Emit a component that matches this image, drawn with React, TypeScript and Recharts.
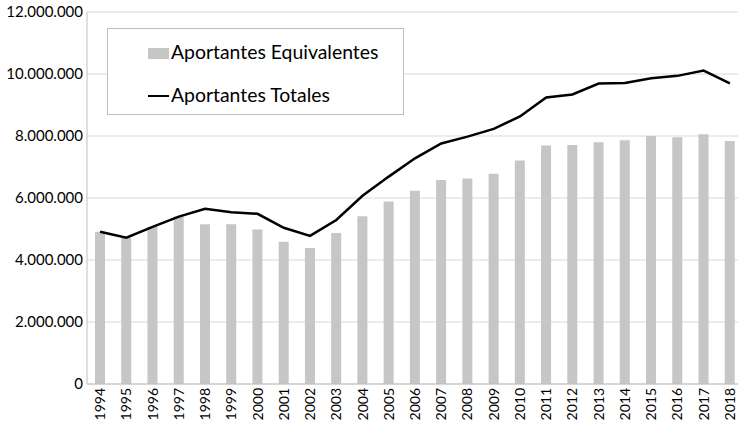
import React from "react";
import { ComposedChart, Bar, Line, XAxis, YAxis, CartesianGrid } from "recharts";

const years = ["1994","1995","1996","1997","1998","1999","2000","2001","2002","2003","2004","2005","2006","2007","2008","2009","2010","2011","2012","2013","2014","2015","2016","2017","2018"];
const equivalentes = [4910000,4720000,5070000,5400000,5150000,5150000,4980000,4590000,4390000,4870000,5410000,5890000,6230000,6580000,6630000,6780000,7210000,7690000,7710000,7800000,7860000,8000000,7960000,8060000,7840000];
const totales = [4910000,4720000,5070000,5400000,5650000,5540000,5490000,5040000,4780000,5290000,6070000,6690000,7280000,7760000,7980000,8230000,8630000,9240000,9340000,9690000,9710000,9860000,9940000,10110000,9700000];
const yTicks = [0,2000000,4000000,6000000,8000000,10000000,12000000];
const legendLabels = ["Aportantes Equivalentes", "Aportantes Totales"];

const data = years.map((y, i) => ({ year: y, eq: equivalentes[i], tot: totales[i] }));

const FONT = "Lato, 'Noto Sans', sans-serif";

const fmt = (v: number) => String(v).replace(/\B(?=(\d{3})+(?!\d))/g, ".");

const XTick = (props: any) => {
  const { x, payload } = props;
  return (
    <text
      x={0}
      y={0}
      transform={`translate(${x + 5},388) rotate(-90)`}
      textAnchor="end"
      fontSize={14}
      fontFamily={FONT}
      fill="#000"
    >
      {payload.value}
    </text>
  );
};

const LegendBox = () => (
  <div
    style={{
      position: "absolute",
      left: 107,
      top: 28,
      width: 297,
      height: 87,
      border: "1px solid #bfbfbf",
      background: "#fff",
      boxSizing: "border-box",
      fontFamily: FONT,
      fontSize: 19.4,
      color: "#000",
      lineHeight: "20px",
    }}
  >
    <div style={{ position: "absolute", left: 40, top: 13, display: "flex", alignItems: "center", whiteSpace: "nowrap" }}>
      <span style={{ display: "inline-block", width: 21, height: 11, background: "#c6c6c6", marginRight: 2, marginTop: 3 }} />
      <span>{legendLabels[0]}</span>
    </div>
    <div style={{ position: "absolute", left: 40, top: 56, display: "flex", alignItems: "center", whiteSpace: "nowrap" }}>
      <span style={{ display: "inline-block", width: 21, height: 2.5, background: "#000", marginRight: 2, marginTop: 2 }} />
      <span>{legendLabels[1]}</span>
    </div>
  </div>
);

export default function App() {
  return (
    <div style={{ position: "absolute", left: 0, top: 0, width: 738, height: 424, overflow: "hidden", background: "#fff" }}>
      <ComposedChart
        width={745}
        height={424}
        data={data}
        margin={{ top: 12, right: 2, bottom: 0, left: 0 }}
      >
        <CartesianGrid vertical={false} stroke="#d9d9d9" />
        <XAxis
          dataKey="year"
          height={40}
          tickLine={false}
          tickSize={0}
          axisLine={{ stroke: "#bfbfbf" }}
          interval={0}
          tick={<XTick />}
        />
        <YAxis
          width={87}
          domain={[0, 12000000]}
          ticks={yTicks}
          tickFormatter={fmt}
          tickLine={false}
          tickSize={0}
          tickMargin={4}
          axisLine={{ stroke: "#bfbfbf" }}
          tick={{ fontSize: 15, fontFamily: FONT, fill: "#000" }}
        />
        <Bar dataKey="eq" fill="#c6c6c6" barSize={10} isAnimationActive={false} />
        <Line
          dataKey="tot"
          type="linear"
          stroke="#000"
          strokeWidth={2.5}
          dot={false}
          activeDot={false}
          isAnimationActive={false}
        />
      </ComposedChart>
      <LegendBox />
    </div>
  );
}
